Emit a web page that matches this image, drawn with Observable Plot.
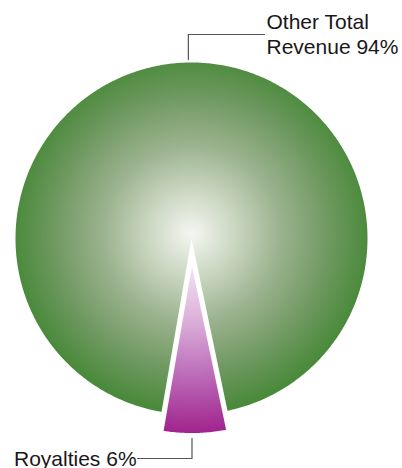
<!DOCTYPE html>
<html><head><meta charset="utf-8">
<script src="https://cdn.jsdelivr.net/npm/d3@7"></script>
<script src="https://cdn.jsdelivr.net/npm/@observablehq/plot@0.6"></script>
<style>body{margin:0;background:#fff} #chart svg{display:block}</style>
</head><body><div id="chart"></div>
<script>
// data
const categories = ["Other Total Revenue", "Royalties"];
const values = [94, 6];
const labelTexts = ["Other Total\nRevenue 94%", "Royalties 6%"];

// layout
const W = 402, H = 468, cx = 191, cy = 238, R = 176;
const explode = [0, 20];
const startDeg = 189.8;

const a0 = startDeg * Math.PI / 180;
const arcs = d3.pie().sort(null).startAngle(a0).endAngle(a0 + 2 * Math.PI)(values);
const pt = (a, r, ox = 0, oy = 0) => ({x: ox + cx + r * Math.sin(a), y: oy + cy - r * Math.cos(a)});

const slices = arcs.map((a, i) => {
  const mid = (a.startAngle + a.endAngle) / 2;
  const ox = explode[i] * Math.sin(mid), oy = -explode[i] * Math.cos(mid);
  const pts = [{...pt(0, 0, ox, oy), name: categories[i]}];
  const n = Math.max(8, Math.ceil((a.endAngle - a.startAngle) / 0.01));
  for (let k = 0; k <= n; k++) {
    pts.push({...pt(a.startAngle + (a.endAngle - a.startAngle) * k / n, R, ox, oy), name: categories[i]});
  }
  return {name: categories[i], pts, ox, oy, mid};
});

// leader lines
const s0 = slices[0], s1 = slices[1];
const p0 = pt(s0.mid, R + 3);
const p1 = pt(s1.mid, R + explode[1] + 4);
const leader0 = [p0, {x: p0.x, y: 34}, {x: 264, y: 34}];
const leader1 = [{x: p1.x - 3, y: p1.y}, {x: p1.x - 3, y: 458}, {x: 137, y: 458}];
const labelData = [
  {x: 266, y: 53, text: labelTexts[0]},
  {x: 13.5, y: 465, text: labelTexts[1]}
];

const plot = Plot.plot({
  width: W, height: H,
  margin: 0,
  x: {domain: [0, W], range: [0, W], axis: null},
  y: {domain: [0, H], range: [0, H], axis: null},
  style: {background: "#fff", overflow: "visible"},
  marks: [
    Plot.line(s0.pts, {x: "x", y: "y", curve: "linear-closed", fill: "url(#gGreen)", stroke: "none"}),
    Plot.line(s1.pts, {x: "x", y: "y", curve: "linear-closed", fill: "url(#gPurple)", stroke: "#fff", strokeWidth: 3, strokeLinejoin: "miter"}),
    Plot.line(leader0, {x: "x", y: "y", stroke: "#555", strokeWidth: 1.2}),
    Plot.line(leader1, {x: "x", y: "y", stroke: "#555", strokeWidth: 1.2}),
    Plot.text(labelData, {x: "x", y: "y", text: "text", textAnchor: "start", lineAnchor: "bottom", lineHeight: 1.19,
      fontSize: 21, fontFamily: "Liberation Sans, Arial, sans-serif", fill: "#1a1718"})
  ]
});

const xs = plot.scale("x"), ys = plot.scale("y");
const tip = {x: xs.apply(cx + s1.ox), y: ys.apply(cy + s1.oy)};
const defs = `
<radialGradient id="gGreen" gradientUnits="userSpaceOnUse" cx="${xs.apply(cx)}" cy="${ys.apply(cy - 5)}" r="${R + 2}">
  <stop offset="0" stop-color="#f5f6f1"/>
  <stop offset="0.25" stop-color="#c9d6c0"/>
  <stop offset="0.5" stop-color="#9bb28e"/>
  <stop offset="0.78" stop-color="#6e9860"/>
  <stop offset="1" stop-color="#4a8a3b"/>
</radialGradient>
<radialGradient id="gPurple" gradientUnits="userSpaceOnUse" cx="${tip.x}" cy="${tip.y}" r="${R}">
  <stop offset="0" stop-color="#f6eaf5"/>
  <stop offset="0.35" stop-color="#dcb0da"/>
  <stop offset="0.65" stop-color="#bd6fba"/>
  <stop offset="1" stop-color="#a0228d"/>
</radialGradient>`;
d3.select(plot).insert("defs", ":first-child").html(defs);
document.getElementById("chart").appendChild(plot);
</script>
</body></html>
